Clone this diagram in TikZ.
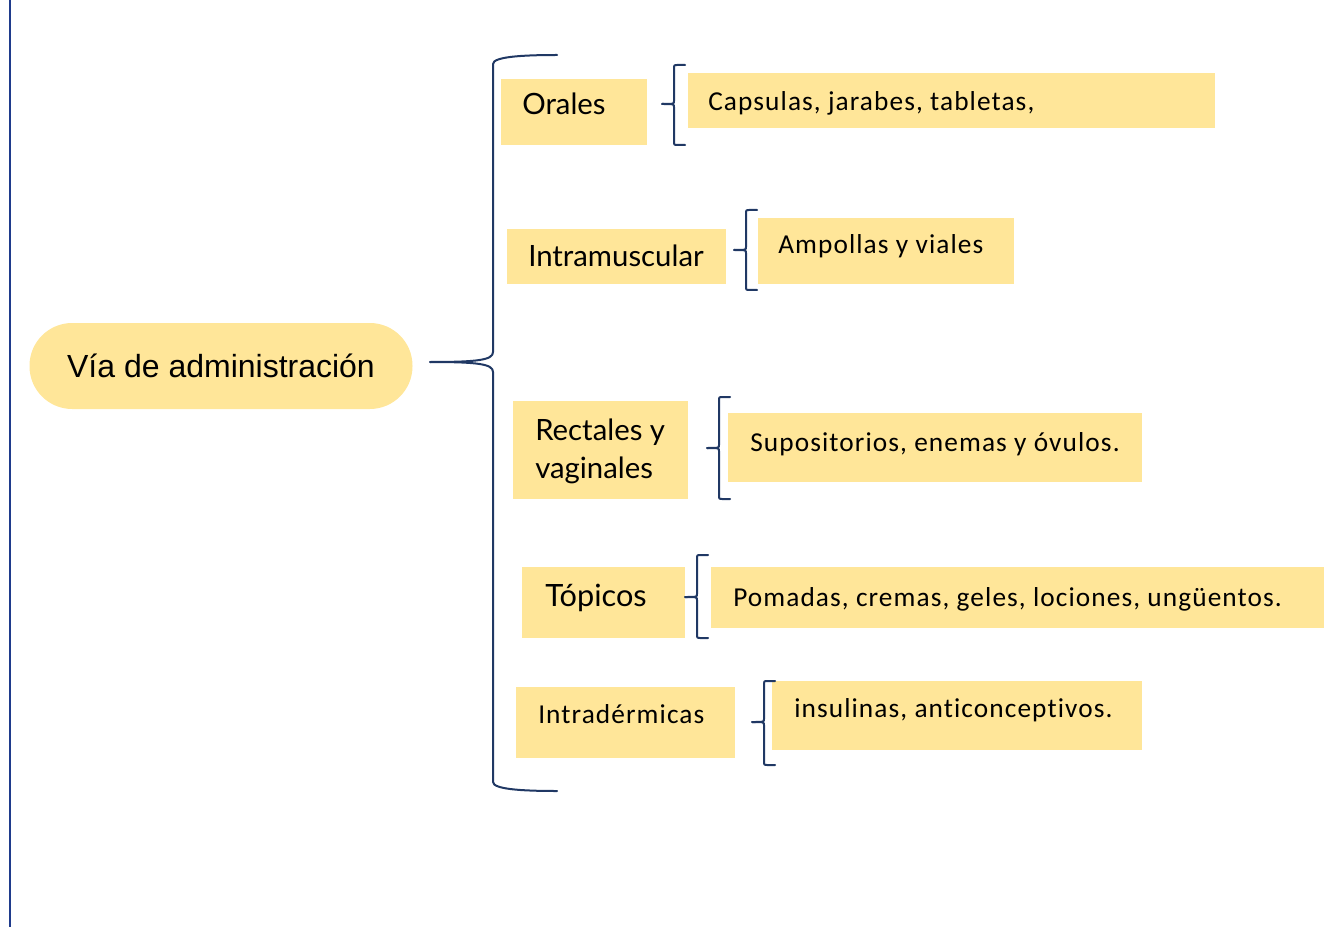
\documentclass[tikz,border=0pt]{standalone}
\usepackage{fontspec}
\setmainfont{Carlito}
\newfontfamily\arialf{Liberation Sans}
\newfontfamily\gillf{Lato}
\newfontfamily\calif[LetterSpace=4,Ligatures=NoCommon]{Carlito}
\definecolor{boxfill}{HTML}{FFE699}
\definecolor{navy}{HTML}{203864}
\definecolor{sideblue}{HTML}{1F3B8C}
\tikzset{
  boxshape/.style={fill=boxfill, draw=none, inner sep=0pt},
  mainshape/.style={fill=boxfill, draw=none, rounded corners=32pt, inner sep=0pt},
  gilltext/.style={anchor=base west, inner sep=0pt, font=\gillf\fontsize{22}{26}\selectfont},
  calitext/.style={anchor=base west, inner sep=0pt, font=\calif\fontsize{20.5}{24}\selectfont},
  bracepath/.style={draw=navy, line width=1.5pt, line cap=round, line join=round},
}
% small brace: #1 x of vertical, #2 top y, #3 bottom y, #4 tip y, #5 name
\newcommand{\smallbrace}[5]{%
  \coordinate (#5tip) at (#1-12,#4);
  \coordinate (#5top) at (#1+11,#2);
  \coordinate (#5bot) at (#1+11,#3);
  \draw[bracepath] (#5top) -- (#1+3,#2) .. controls (#1,#2) .. (#1,#2+3)
     -- (#1,#4-3) .. controls (#1,#4) .. (#5tip);
  \draw[bracepath] (#5tip) .. controls (#1,#4) .. (#1,#4+3)
     -- (#1,#3-3) .. controls (#1,#3) .. (#1+3,#3) -- (#5bot);
}
\begin{document}
\begin{tikzpicture}[x=0.75pt,y=-0.75pt]
\useasboundingbox (0,0) rectangle (1324,927);
% left side line
\coordinate (ltop) at (10,0);
\coordinate (lbot) at (10,927);
\draw[sideblue, line width=2.2pt] (ltop) -- (lbot);

% main node
\node[mainshape, minimum width=383*0.75pt, minimum height=86*0.75pt,
      font=\arialf\fontsize{24}{28}\selectfont] (main) at (221,366) {Vía de administración};

% big brace
\coordinate (btop) at (557,55);
\coordinate (bbot) at (557,791);
\coordinate (btip) at (430,362);
\draw[bracepath] (btop) .. controls (520,55) and (493,57) .. (493,64)
   -- (493,352) .. controls (493,360) and (478,362) .. (btip);
\draw[bracepath] (btip) .. controls (478,362) and (493,364) .. (493,372)
   -- (493,782) .. controls (493,789) and (520,791) .. (bbot);

% level-1 boxes
\path[boxshape] (501,79) rectangle (647,145) node[pos=0.5] (oralesbox) {};
\node[gilltext] (orales) at (522,115) {Orales};
\path[boxshape] (507,229) rectangle (726,284) node[pos=0.5] (intrabox) {};
\node[gilltext] (intra) at (528,267) {Intramuscular};
\path[boxshape] (513,401) rectangle (688,499) node[pos=0.5] (rectbox) {};
\node[gilltext] (rect1) at (535,440) {Rectales y};
\node[gilltext] (rect2) at (535,478) {vaginales};
\path[boxshape] (522,567) rectangle (685,638) node[pos=0.5] (topbox) {};
\node[gilltext, font=\gillf\fontsize{23}{26}\selectfont] (topicos) at (545,606) {Tópicos};
\path[boxshape] (516,687) rectangle (735,758) node[pos=0.5] (dermbox) {};
\node[calitext] (derm) at (538,723) {Intradérmicas};

% level-2 boxes
\path[boxshape] (688,73) rectangle (1215,128) node[pos=0.5] (capbox) {};
\node[calitext] (cap) at (708,111) {Capsulas, jarabes, tabletas,};
\path[boxshape] (758,218) rectangle (1014,284) node[pos=0.5] (ampbox) {};
\node[calitext] (amp) at (778,254) {Ampollas y viales};
\path[boxshape] (728,413) rectangle (1142,482) node[pos=0.5] (supbox) {};
\node[calitext] (sup) at (750,451) {Supositorios, enemas y óvulos.};
\path[boxshape] (711,567) rectangle (1324,628) node[pos=0.5] (pombox) {};
\node[calitext] (pom) at (733,606) {Pomadas, cremas, geles, lociones, ungüentos.};
\path[boxshape] (772,681) rectangle (1142,750) node[pos=0.5] (insbox) {};
\node[calitext] (ins) at (794,717) {insulinas, anticonceptivos.};

% small braces
\smallbrace{674}{65}{145}{104}{b1}
\smallbrace{746}{210}{290}{250}{b2}
\smallbrace{719}{397}{499}{448}{b3}
\smallbrace{697}{555}{638}{597}{b4}
\smallbrace{764}{681}{765}{722}{b5}
\end{tikzpicture}
\end{document}
